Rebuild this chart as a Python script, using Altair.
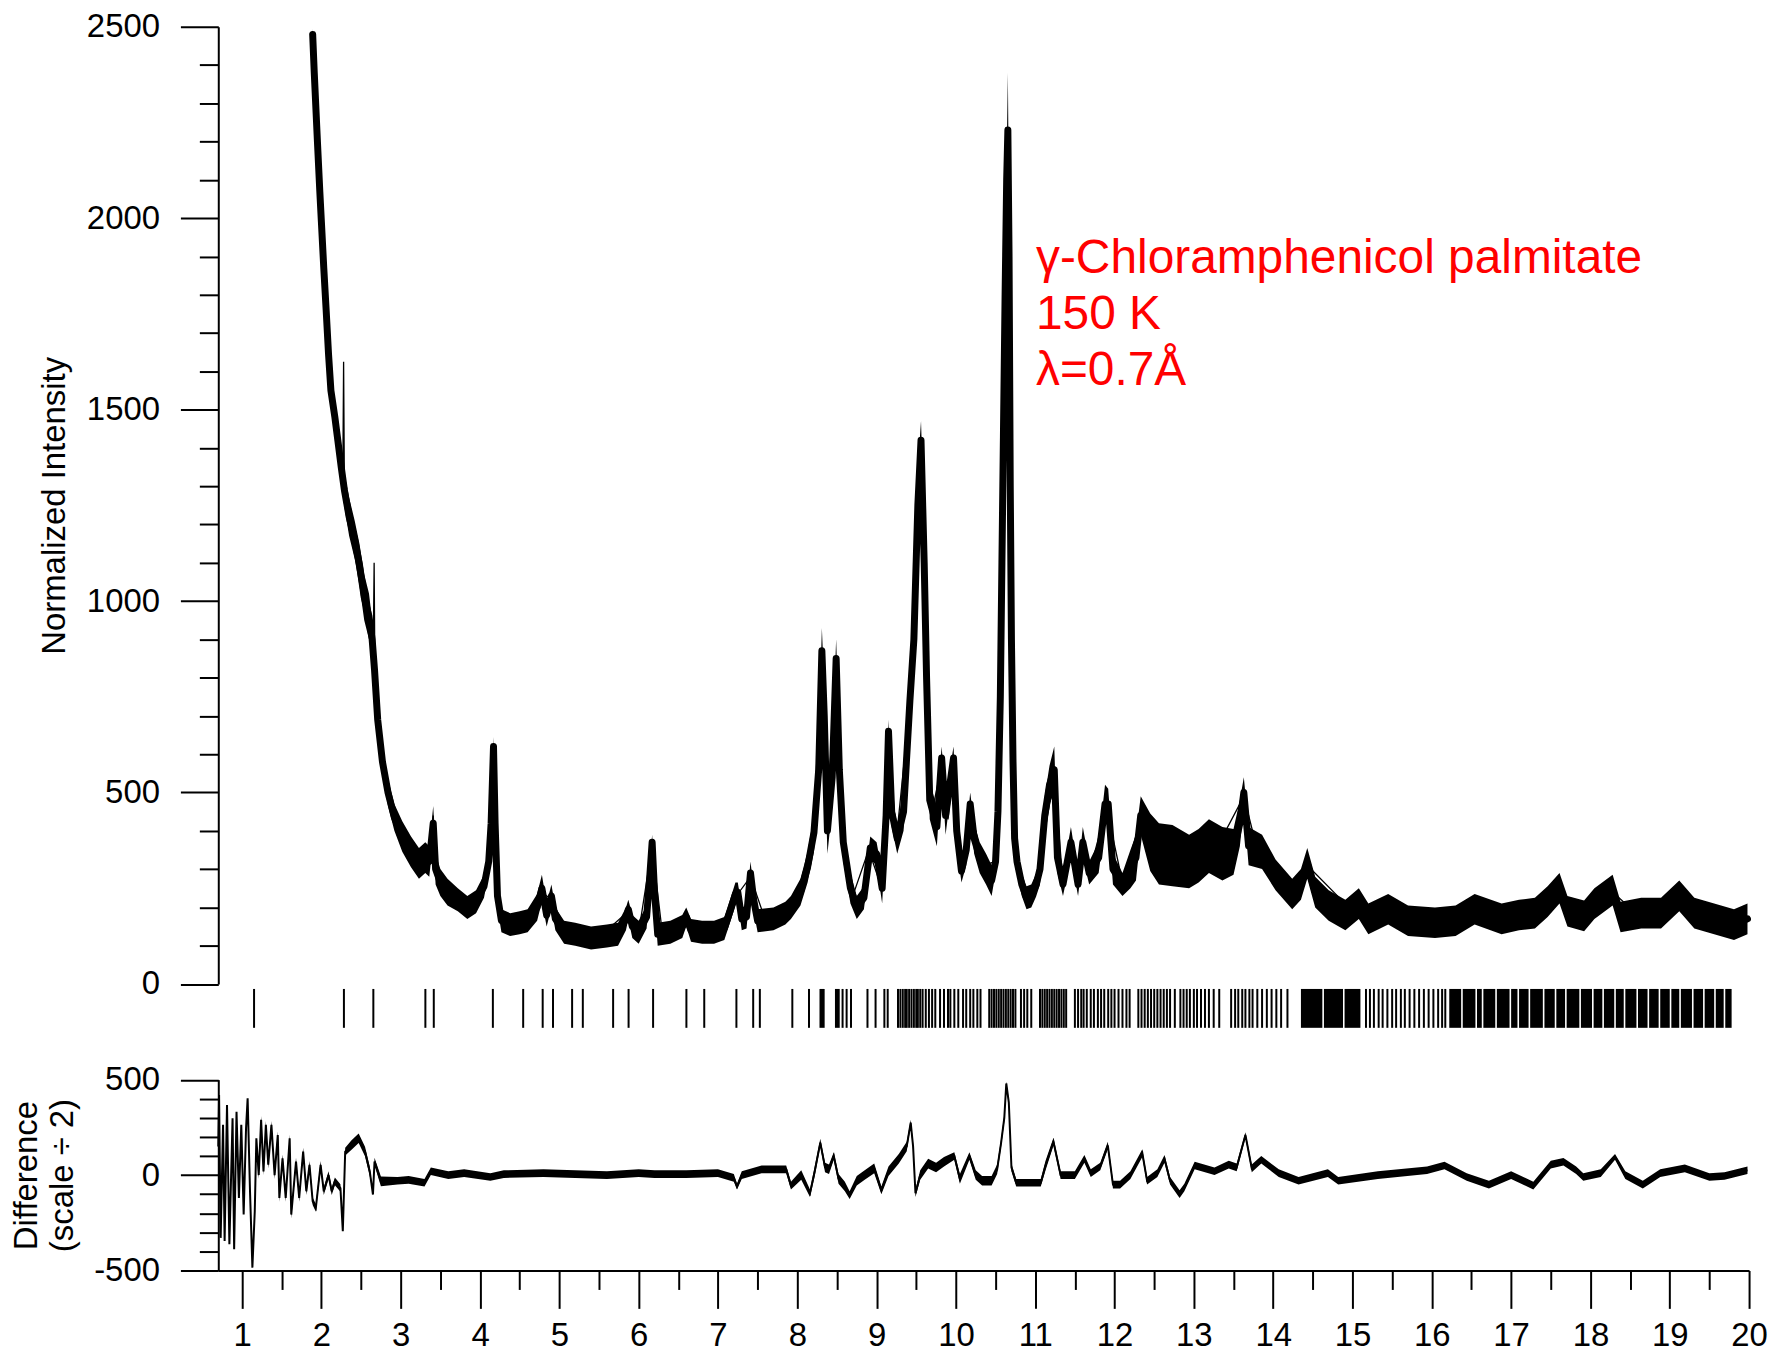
import altair as alt
import pandas as pd

# ---------------- data ----------------
# observed powder profile: 2theta, centre of the scatter band, half-width of the band
two_theta = [
    1.89, 1.91, 1.95, 1.98, 2.00, 2.03, 2.06, 2.09, 2.12, 2.17, 2.21, 2.25, 2.29, 2.35, 2.42, 2.48, 2.54, 2.60, 2.64, 2.67, 2.71, 2.77, 2.84, 2.92, 3.02,
    3.13, 3.23, 3.31, 3.36, 3.41, 3.44, 3.50, 3.59, 3.72, 3.84, 3.95, 4.05, 4.11, 4.14, 4.17, 4.19, 4.22, 4.27, 4.38, 4.50, 4.60, 4.72, 4.78, 4.84, 4.90, 4.95, 5.06,
    5.20, 5.40, 5.60, 5.74, 5.84, 5.87, 5.92, 6.00, 6.10, 6.14, 6.17, 6.20, 6.24, 6.40, 6.55, 6.60, 6.66, 6.80, 6.95, 7.08, 7.16, 7.22, 7.25, 7.30, 7.36, 7.41, 7.45, 7.50, 7.70, 7.85, 7.92, 8.04,
    8.13, 8.21, 8.27, 8.31, 8.34, 8.38, 8.44, 8.49, 8.53, 8.58, 8.67, 8.75, 8.84, 8.92, 9.00, 9.07, 9.12, 9.15, 9.19, 9.26, 9.34, 9.42, 9.47, 9.52, 9.56, 9.60, 9.63, 9.67, 9.76, 9.82, 9.87, 9.97, 10.01, 10.07, 10.13, 10.18, 10.23, 10.30, 10.38, 10.45,
    10.50, 10.53, 10.56, 10.58, 10.60, 10.62, 10.64, 10.655, 10.67, 10.685, 10.70, 10.72, 10.74, 10.77,
    10.83, 10.89, 10.95, 11.01, 11.06, 11.12, 11.18, 11.24, 11.28, 11.35, 11.45, 11.54, 11.60, 11.68, 11.80, 11.88, 11.92, 11.98, 12.10, 12.20, 12.27, 12.33, 12.45, 12.56, 12.73, 12.94, 13.06, 13.19, 13.36, 13.50, 13.58, 13.63, 13.69, 13.86,
    14.03, 14.24, 14.35, 14.43, 14.53, 14.70, 14.91, 15.08, 15.20, 15.45, 15.70, 16.04, 16.30, 16.54, 16.88, 17.10, 17.30, 17.46, 17.61, 17.71, 17.92, 18.05, 18.28, 18.38, 18.64, 18.89, 19.12, 19.31, 19.56, 19.81, 19.98,
]
obs_centre = [
    2480, 2380, 2200, 2070, 1990, 1870, 1760, 1645, 1550, 1480, 1415, 1350, 1290, 1220, 1160, 1095, 1010, 960, 900, 820, 690, 580, 500, 435, 385,
    345, 315, 330, 320, 420, 300, 265, 240, 220, 200, 215, 255, 320, 420, 620, 420, 230, 165, 155, 160, 165, 200, 250, 180, 230, 170, 135,
    130, 120, 125, 130, 170, 195, 150, 135, 175, 280, 370, 240, 130, 135, 150, 175, 140, 135, 135, 145, 195, 235, 240, 170, 175, 290, 220, 165, 170, 185, 200, 240,
    305, 395, 560, 870, 700, 400, 540, 850, 560, 370, 250, 200, 225, 355, 340, 250, 440, 660, 450, 380, 450, 740, 900, 1250, 1420, 1100, 800, 480, 410, 590, 440, 590, 400, 295, 350, 470, 380, 330, 300, 270,
    320, 450, 750, 1100, 1450, 1800, 2100, 2230, 1900, 1300, 900, 580, 380, 320,
    260, 225, 230, 258, 300, 440, 520, 560, 330, 260, 370, 260, 370, 290, 330, 470, 470, 300, 260, 300, 330, 440, 370, 340, 335, 320, 335, 360, 340, 345, 420, 500, 360, 345,
    285, 235, 260, 315, 240, 205, 180, 210, 170, 195, 165, 160, 165, 195, 170, 180, 185, 215, 250, 190, 178, 210, 245, 175, 185, 185, 230, 185, 170, 155, 170,
]
obs_half_band = [
    15, 30, 40, 40, 40, 40, 40, 40, 40, 40, 40, 45, 45, 50, 50, 55, 60, 60, 50, 40, 40, 35, 35, 35, 40,
    40, 40, 40, 40, 45, 40, 35, 35, 30, 30, 30, 30, 30, 30, 25, 30, 30, 30, 30, 30, 30, 35, 35, 30, 30, 30, 30,
    30, 30, 30, 30, 30, 25, 30, 30, 30, 30, 20, 30, 30, 30, 30, 25, 30, 30, 30, 30, 30, 30, 25, 30, 30, 30, 30, 30, 30, 30, 30, 35,
    40, 50, 80, 60, 80, 60, 80, 50, 80, 50, 40, 30, 30, 30, 30, 40, 40, 30, 40, 40, 50, 60, 70, 100, 50, 100, 80, 50, 50, 30, 50, 30, 40, 30, 40, 30, 40, 40, 40, 40,
    30, 30, 30, 40, 40, 40, 60, 150, 80, 60, 40, 30, 30, 30,
    30, 30, 30, 30, 40, 50, 50, 60, 40, 30, 40, 30, 40, 30, 40, 50, 40, 40, 30, 50, 60, 50, 75, 80, 80, 70, 70, 70, 70, 60, 60, 40, 50, 45,
    40, 40, 40, 40, 40, 40, 40, 40, 40, 40, 40, 40, 40, 40, 40, 40, 40, 40, 40, 40, 40, 40, 40, 40, 40, 40, 40, 40, 40, 40, 40,
]

# calculated (fitted) profile
calc_two_theta = [
    1.89, 2.00, 2.10, 2.20, 2.27, 2.28, 2.29, 2.40, 2.50, 2.60, 2.655, 2.665, 2.675, 2.72, 2.80, 2.90, 3.00, 3.20, 3.31, 3.35, 3.41, 3.45,
    3.60, 3.80, 4.00, 4.10, 4.17, 4.22, 4.30, 4.50, 4.78, 4.90, 5.10, 5.50, 5.87, 6.00, 6.17, 6.30, 6.60, 7.00, 7.25, 7.41, 7.60, 7.90,
    8.10, 8.20, 8.31, 8.37, 8.49, 8.56, 8.70, 8.90, 9.05, 9.15, 9.25, 9.42, 9.52, 9.56, 9.62, 9.70, 9.82, 9.90, 9.97, 10.07, 10.18, 10.35,
    10.50, 10.54, 10.57, 10.60, 10.63, 10.65, 10.67, 10.69, 10.71, 10.73, 10.76, 10.90, 11.00, 11.24, 11.35, 11.45, 11.54, 11.60, 11.68,
    11.90, 12.10, 12.33, 12.60, 13.00, 13.30, 13.63, 13.80, 14.20, 14.43, 15.00, 15.45, 16.00, 16.54, 17.00, 17.61, 17.90, 18.28, 18.60,
    19.12, 19.50, 19.98,
]
calc_intensity = [
    2480, 1990, 1620, 1430, 1320, 1625, 1300, 1175, 1070, 960, 900, 1100, 800, 670, 540, 450, 390, 320, 330, 300, 440, 290,
    240, 205, 230, 310, 600, 230, 165, 160, 240, 220, 135, 122, 190, 135, 360, 130, 170, 140, 235, 280, 165, 195,
    290, 390, 850, 420, 830, 420, 230, 350, 260, 640, 380, 730, 1250, 1400, 850, 450, 570, 430, 570, 300, 460, 310,
    320, 450, 800, 1300, 1750, 1880, 1600, 1000, 700, 450, 320, 230, 255, 540, 265, 360, 265, 360, 290,
    460, 265, 430, 340, 330, 360, 490, 350, 240, 310, 190, 190, 160, 190, 170, 245, 180, 240, 180,
    225, 170, 165,
]

# difference curve (scale / 2): 2theta, centre, half-width of the noise band
diff_two_theta = [
    0.70, 0.71, 0.73, 0.76, 0.78, 0.81, 0.84, 0.88, 0.90, 0.93, 0.96, 0.99, 1.02, 1.05, 1.07, 1.10, 1.13, 1.16, 1.18,
    1.21, 1.24, 1.27, 1.30, 1.33, 1.37, 1.41, 1.45, 1.47, 1.51, 1.55, 1.60, 1.62, 1.68, 1.72, 1.77, 1.81, 1.85, 1.89, 1.93,
    1.99, 2.03, 2.09, 2.13, 2.17, 2.24, 2.27, 2.30, 2.38, 2.47, 2.55, 2.61, 2.65, 2.67, 2.75,
    2.96, 3.10, 3.30, 3.38, 3.60, 3.80, 4.13, 4.30, 4.80, 5.20, 5.60, 6.00, 6.20, 6.60, 7.00, 7.20, 7.24, 7.30, 7.55, 7.86,
    7.92, 8.05, 8.16, 8.22, 8.29, 8.35, 8.40, 8.46, 8.52, 8.60, 8.66, 8.75, 8.85, 8.97, 9.06, 9.15, 9.28, 9.38, 9.43, 9.46,
    9.49, 9.55, 9.65, 9.75, 9.85, 9.98, 10.05, 10.17, 10.25, 10.33, 10.45, 10.52, 10.57, 10.61, 10.635, 10.667, 10.70, 10.76,
    10.90, 11.07, 11.13, 11.23, 11.32, 11.50, 11.62, 11.70, 11.82, 11.915, 11.98, 12.07, 12.20, 12.35, 12.41, 12.54, 12.63,
    12.70, 12.82, 12.88, 13.01, 13.26, 13.44, 13.54, 13.65, 13.73, 13.85, 14.07, 14.32, 14.69, 14.82, 15.32, 15.94, 16.16,
    16.44, 16.72, 17.00, 17.28, 17.50, 17.66, 17.82, 17.91, 18.13, 18.31, 18.44, 18.66, 18.88, 19.19, 19.50, 19.69, 19.98,
]
diff_centre = [
    150, 419, -329, 263, -346, 367, -363, 297, -389, 332, -120, 263, -207, 245, 402, -85, -485, -190, 193,
    0, 289, 19, 263, 54, 263, 0, 210, -120, 88, -120, 193, -207, 71, -120, 123, -85, 54, -137, -172,
    54, -85, 0, -85, -33, -68, -294, 123, 158, 193, 123, 19, -102, 71, -33,
    -30, -25, -40, 20, 0, 10, -10, 5, 10, 5, 0, 10, 5, 5, 10, -15, -60, 0, 30, 30,
    -55, 0, -95, 20, 170, 40, 30, 100, -20, -60, -105, -30, 0, 35, -80, 20, 85, 150, 275, 150,
    -95, 0, 60, 40, 70, 100, -20, 100, 0, -30, -30, 30, 170, 300, 480, 380, 40, -40,
    -40, -40, 50, 175, 0, 0, 85, 10, 45, 155, -50, -50, 0, 115, -30, 10, 85,
    -30, -100, -65, 50, 20, 55, 40, 210, 35, 80, 10, -30, 10, -30, 0, 25, 50,
    -10, -50, 0, -55, 55, 70, 25, -10, 10, 95, 0, -50, 10, 35, -10, -5, 25,
]
diff_half_band = [
    0, 0, 0, 0, 0, 0, 0, 0, 0, 0, 0, 0, 0, 0, 0, 0, 0, 0, 0,
    20, 20, 20, 20, 20, 20, 20, 20, 20, 20, 20, 20, 20, 20, 20, 20, 20, 20, 20, 20,
    20, 20, 20, 20, 20, 20, 0, 20, 25, 25, 25, 25, 0, 20, 25,
    20, 20, 20, 20, 20, 20, 20, 20, 20, 20, 20, 20, 20, 20, 20, 20, 15, 20, 20, 20,
    20, 25, 20, 25, 20, 25, 25, 20, 25, 25, 20, 25, 25, 25, 20, 25, 25, 25, 15, 20,
    20, 25, 25, 25, 25, 20, 25, 20, 25, 25, 25, 25, 20, 20, 10, 15, 20, 20,
    20, 20, 25, 20, 20, 20, 20, 20, 20, 20, 20, 20, 20, 20, 20, 20, 20,
    20, 20, 20, 20, 20, 20, 20, 15, 20, 20, 20, 20, 20, 20, 20, 20, 20,
    20, 20, 20, 20, 20, 20, 20, 20, 20, 15, 20, 20, 20, 20, 20, 20, 20,
]

# reflection markers: single lines and merged (solid) groups
reflection_lines = [
    1.151, 2.284, 2.655, 3.311, 3.417, 4.162, 4.544, 4.79, 4.92, 5.161, 5.296, 5.678, 5.873, 6.182, 6.602, 6.827,
    7.444, 7.528, 8.571, 8.622, 8.677, 8.885, 8.987, 9.098, 9.14,
    9.27, 9.30, 9.33, 9.36, 9.38, 9.41, 9.44, 9.47, 9.50, 9.52, 9.55, 9.58, 9.62, 9.66, 9.70, 9.74, 9.80, 9.85, 9.90,
    9.93, 9.98, 10.03, 10.09, 10.13, 10.18, 10.22, 10.27, 10.31, 10.42, 10.45, 10.48, 10.51, 10.54, 10.57, 10.60,
    10.63, 10.66, 10.69, 10.72, 10.75, 10.82, 10.86, 10.90, 10.95, 11.06, 11.09, 11.12, 11.15, 11.18, 11.21, 11.24,
    11.27, 11.30, 11.33, 11.36, 11.39, 11.50, 11.54, 11.58, 11.61, 11.65, 11.70, 11.74, 11.79, 11.83, 11.87, 11.92,
    11.96, 12.00, 12.05, 12.10, 12.15, 12.19, 12.30, 12.34, 12.38, 12.42, 12.46, 12.50, 12.54, 12.58, 12.62, 12.66,
    12.70, 12.76, 12.83, 12.87, 12.91, 12.95, 13.00, 13.04, 13.09, 13.14, 13.19, 13.25, 13.32, 13.47, 13.52, 13.56,
    13.61, 13.65, 13.70, 13.74, 13.80, 13.86, 13.92, 13.98, 14.04, 14.10, 14.18, 15.17, 15.22, 15.27, 15.33, 15.38,
    15.44, 15.50, 15.55, 15.61, 15.66, 15.72, 15.78, 15.84, 15.90, 15.96, 16.02, 16.08, 16.13, 16.17,
]
reflection_block_start = [
    7.22, 7.925, 8.135, 8.28, 8.475, 14.35, 14.64, 14.90,
    16.22, 16.39, 16.57, 16.65, 16.82, 17.00, 17.10, 17.24, 17.42, 17.57, 17.70, 17.88, 18.04, 18.17,
    18.32, 18.44, 18.60, 18.74, 18.88, 19.02, 19.14, 19.30, 19.44, 19.58, 19.70,
]
reflection_block_end = [
    7.245, 7.95, 8.16, 8.345, 8.535, 14.62, 14.88, 15.10,
    16.37, 16.55, 16.63, 16.80, 16.98, 17.08, 17.22, 17.40, 17.55, 17.68, 17.86, 18.02, 18.15, 18.30,
    18.42, 18.58, 18.72, 18.86, 19.00, 19.12, 19.28, 19.42, 19.56, 19.68, 19.78,
]

annotation_lines = "γ-Chloramphenicol palmitate\n150 K\nλ=0.7Å"
annotation_x = 11.01
annotation_y = 1856

y_main_ticks = list(range(0, 2501, 100))
y_diff_ticks = list(range(-500, 501, 100))
x_ticks = [h / 2 for h in range(2, 41)]

# ---------------- frames ----------------
obs_df = pd.DataFrame({"x": two_theta, "mid": obs_centre, "half": obs_half_band})
obs_df["lo"] = obs_df["mid"] - obs_df["half"]
obs_df["hi"] = obs_df["mid"] + obs_df["half"]
calc_df = pd.DataFrame({"x": calc_two_theta, "calc": calc_intensity})
diff_df = pd.DataFrame({"x": diff_two_theta, "mid": diff_centre, "half": diff_half_band})
diff_df["lo"] = diff_df["mid"] - diff_df["half"]
diff_df["hi"] = diff_df["mid"] + diff_df["half"]
refl_df = pd.DataFrame({"x": reflection_lines})
block_df = pd.DataFrame({"x": reflection_block_start, "x2": reflection_block_end})
ann_df = pd.DataFrame({"x": [annotation_x], "y": [annotation_y], "label": [annotation_lines]})

FONT = "Liberation Sans"
W, H = 1536, 1248
MAIN_RANGE = [960.5, 0]
DIFF_RANGE = [1248, 1056.5]
RUG_TOP, RUG_BOTTOM = 965.5, 1004.5

XS = alt.Scale(domain=[0.7, 20], nice=False, zero=False)
YM = alt.Scale(domain=[0, 2500], range=MAIN_RANGE, nice=False, zero=False)
YD = alt.Scale(domain=[-500, 500], range=DIFF_RANGE, nice=False, zero=False)


def common_axis(**kw):
    base = dict(
        tickWidth=2, domainWidth=2, domainColor="black", tickColor="black",
        labelColor="black", labelFont=FONT, labelFontSize=33, labelOverlap=False,
        labelFlush=False, grid=False, titleFont=FONT, titleFontSize=33,
        titleFontWeight="normal", titleColor="black",
    )
    base.update(kw)
    return alt.Axis(**base)


def yaxis(values, major, title, pad, line_height):
    return common_axis(
        values=values, orient="left", title=title, titlePadding=pad, titleLineHeight=line_height,
        labelPadding=21,
        labelExpr=f"datum.value % {major} === 0 ? '' + datum.value : ''",
        tickSize={"condition": {"test": f"datum.value % {major} === 0", "value": 38}, "value": 19},
    )


x_axis = common_axis(
    values=x_ticks, orient="bottom", title=None, labelPadding=37, labelBaseline="alphabetic",
    labelExpr="datum.value % 1 === 0 ? '' + datum.value : ''",
    tickSize={"condition": {"test": "datum.value % 1 === 0", "value": 38}, "value": 19},
)
main_axis = yaxis(y_main_ticks, 500, "Normalized Intensity", 15, 40)
diff_axis = yaxis(y_diff_ticks, 500, ["Difference", "(scale ÷ 2)"], 14, 36)

X = alt.X("x:Q", scale=XS, axis=x_axis)

obs_band = alt.Chart(obs_df).mark_area(color="black").encode(
    x=X, y=alt.Y("lo:Q", scale=YM, axis=main_axis), y2="hi:Q")
obs_line = alt.Chart(obs_df).mark_line(color="black", strokeWidth=7, strokeJoin="round", strokeCap="round").encode(
    x=X, y=alt.Y("mid:Q", scale=YM, axis=main_axis))
calc_line = alt.Chart(calc_df).mark_line(color="black", strokeWidth=1.3).encode(
    x=X, y=alt.Y("calc:Q", scale=YM, axis=main_axis))
label = alt.Chart(ann_df).mark_text(
    align="left", baseline="alphabetic", color="#ff0000", font=FONT, fontSize=48,
    lineBreak="\n", lineHeight=56).encode(
    x=X, y=alt.Y("y:Q", scale=YM, axis=main_axis), text="label:N")
main_group = alt.layer(obs_band, obs_line, calc_line, label)

diff_band = alt.Chart(diff_df).mark_area(color="black").encode(
    x=X, y=alt.Y("lo:Q", scale=YD, axis=diff_axis), y2="hi:Q")
diff_line = alt.Chart(diff_df).mark_line(color="black", strokeWidth=2).encode(
    x=X, y=alt.Y("mid:Q", scale=YD, axis=diff_axis))
diff_group = alt.layer(diff_band, diff_line)

rug = alt.Chart(refl_df).mark_rule(color="black", strokeWidth=2).encode(
    x=X, y=alt.value(RUG_TOP), y2=alt.value(RUG_BOTTOM))
blocks = alt.Chart(block_df).mark_rect(color="black").encode(
    x=X, x2="x2:Q", y=alt.value(RUG_TOP), y2=alt.value(RUG_BOTTOM))

chart = (
    alt.layer(main_group, diff_group, rug, blocks)
    .resolve_scale(y="independent")
    .properties(
        width=W, height=H,
        autosize=alt.AutoSizeParams(type="none"),
        padding={"left": 211, "top": 16.5, "right": 20, "bottom": 82},
    )
    .configure_view(stroke=None)
)

chart.save("out.html", embed_options={"renderer": "svg", "actions": False})
